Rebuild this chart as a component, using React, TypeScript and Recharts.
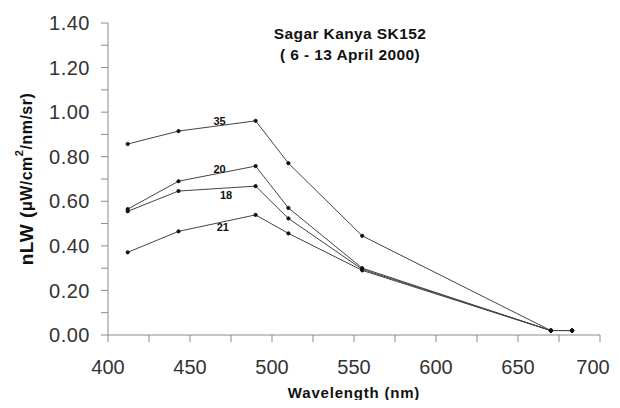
import { LineChart, Line, XAxis, YAxis, ReferenceDot } from 'recharts';

const wavelengths = [412, 443, 490, 510, 555, 670, 683];
const station35 = [0.857, 0.915, 0.961, 0.771, 0.445, 0.02, 0.02];
const station20 = [0.565, 0.69, 0.758, 0.57, 0.30, 0.02, 0.02];
const station18 = [0.555, 0.646, 0.668, 0.523, 0.295, 0.02, 0.02];
const station21 = [0.371, 0.465, 0.539, 0.456, 0.29, 0.02, 0.02];

const xTicks = [400, 425, 450, 475, 500, 525, 550, 575, 600, 625, 650, 675, 700];
const yTicks = [0, 0.1, 0.2, 0.3, 0.4, 0.5, 0.6, 0.7, 0.8, 0.9, 1.0, 1.1, 1.2, 1.3, 1.4];

const stationLabels = [
    { name: '35', x: 468, y: 0.962 },
    { name: '20', x: 468, y: 0.744 },
    { name: '18', x: 472, y: 0.628 },
    { name: '21', x: 470, y: 0.484 },
];

const data = wavelengths.map((w, i) => ({
    w,
    s35: station35[i],
    s20: station20[i],
    s18: station18[i],
    s21: station21[i],
}));

const FONT = 'Liberation Sans, Arial, sans-serif';
const AXIS = '#8a8a8a';

// keeps the last label ("700") inside the visible area
function XTick({ x, y, payload }: any) {
    const v = payload.value;
    if (v % 50 !== 0) return null;
    const tx = Math.min(x, 593);
    return (
        <text x={tx} y={y} dy="0.71em" textAnchor="middle" fill="#333" fontSize={20} fontFamily={FONT}>
            {v}
        </text>
    );
}

function YLabel({ viewBox }: any) {
    const cx = 26;
    const cy = viewBox.y + viewBox.height / 2;
    return (
        <text
            x={cx}
            y={cy}
            transform={`rotate(-90 ${cx} ${cy})`}
            textAnchor="middle"
            dominantBaseline="central"
            fontFamily={FONT}
            fontWeight="bold"
            fill="#111"
            letterSpacing={0.5}
        >
            <tspan fontSize={19}>nLW (</tspan>
            <tspan fontSize={16}>μW/cm</tspan>
            <tspan fontSize={11} dy={-7}>2</tspan>
            <tspan fontSize={16} dy={7}>/nm/sr)</tspan>
        </text>
    );
}

export default function App() {
    return (
        // negative margins cancel the body margin so the 620x408 chart fits the window exactly
        <div style={{ position: 'relative', width: 620, height: 408, margin: -8, fontFamily: FONT }}>
            <LineChart
                width={620}
                height={408}
                data={data}
                margin={{ top: 23, right: 20, bottom: 0, left: 0 }}
            >
                <XAxis
                    dataKey="w"
                    type="number"
                    domain={[400, 700]}
                    ticks={xTicks}
                    interval={0}
                    height={73}
                    tickSize={7}
                    tickMargin={18}
                    stroke={AXIS}
                    tick={<XTick />}
                    label={{
                        value: 'Wavelength (nm)',
                        position: 'insideBottom',
                        offset: 10,
                        fill: '#111',
                        fontSize: 15,
                        fontWeight: 'bold',
                        fontFamily: FONT,
                        letterSpacing: 0.8,
                    }}
                />
                <YAxis
                    type="number"
                    domain={[0, 1.4]}
                    ticks={yTicks}
                    interval={0}
                    tickFormatter={(v: number) => (Math.round(v * 10) % 2 === 0 ? v.toFixed(2) : '')}
                    width={108}
                    tickSize={7}
                    tickMargin={11}
                    stroke={AXIS}
                    tick={{ fill: '#333', fontSize: 20, fontFamily: FONT, letterSpacing: 0.5 }}
                    label={<YLabel />}
                />
                {['s35', 's20', 's18', 's21'].map((k) => (
                    <Line
                        key={k}
                        dataKey={k}
                        type="linear"
                        stroke="#444"
                        strokeWidth={1}
                        dot={{ r: 1.6, fill: '#111', stroke: '#111' }}
                        isAnimationActive={false}
                    />
                ))}
                {stationLabels.map((l) => (
                    <ReferenceDot
                        key={l.name}
                        x={l.x}
                        y={l.y}
                        r={0}
                        stroke="none"
                        label={{
                            value: l.name,
                            position: 'center',
                            fill: '#111',
                            fontSize: 11,
                            fontWeight: 'bold',
                            fontFamily: FONT,
                        }}
                    />
                ))}
            </LineChart>
            <div
                style={{
                    position: 'absolute',
                    left: 250,
                    top: 23,
                    width: 200,
                    textAlign: 'center',
                    fontWeight: 'bold',
                    fontSize: 15.5,
                    letterSpacing: 0.4,
                    lineHeight: '21px',
                    color: '#111',
                }}
            >
                <div>Sagar Kanya SK152</div>
                <div>( 6 - 13 April 2000)</div>
            </div>
        </div>
    );
}
